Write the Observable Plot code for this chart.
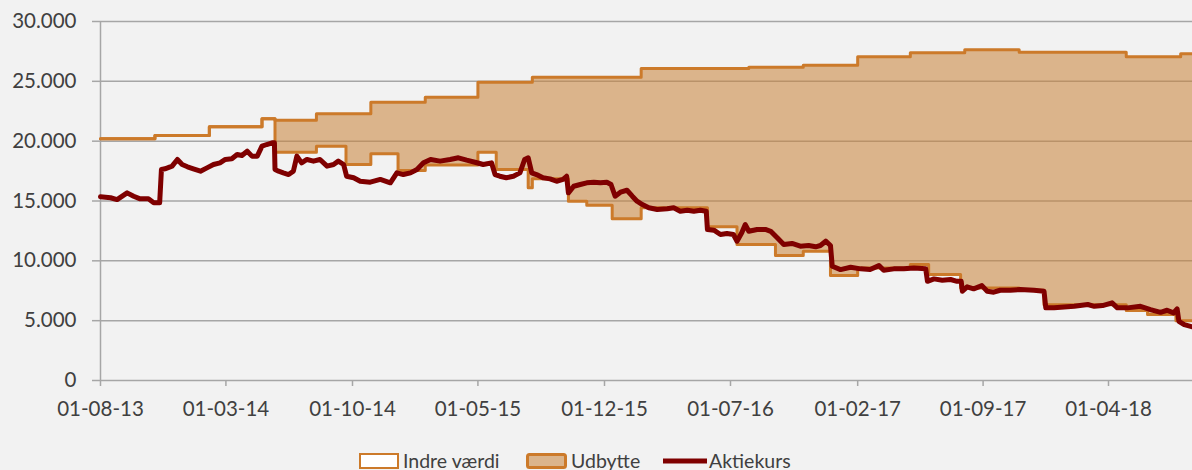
<!DOCTYPE html>
<html>
<head>
<meta charset="utf-8">
<script src="https://cdn.jsdelivr.net/npm/d3@7"></script>
<script src="https://cdn.jsdelivr.net/npm/@observablehq/plot@0.6"></script>
<style>
  html, body { margin: 0; padding: 0; background: #f2f2f2; overflow: hidden; }
  #chart { width: 1192px; height: 440px; }
  #legend { position: relative; height: 30px; font-family: Lato, "Open Sans", sans-serif; font-size: 19.5px; color: #404040; }
  .item { position: absolute; top: 12px; display: flex; align-items: center; height: 18px; }
  .item span { margin-left: 4px; line-height: 18px; }
</style>
</head>
<body>
<div id="chart"></div>
<div id="legend">
  <div class="item" style="left:359px"><svg width="40" height="16"><rect x="1" y="1" width="38" height="14" fill="#ffffff" stroke="#cc7a2a" stroke-width="2"/></svg><span>Indre værdi</span></div>
  <div class="item" style="left:526px"><svg width="41" height="16"><rect x="1.5" y="1.5" width="38" height="13" rx="2" fill="#dbb48b" stroke="#cc7a2a" stroke-width="3"/></svg><span>Udbytte</span></div>
  <div class="item" style="left:663px"><svg width="44" height="16"><line x1="0" y1="8" x2="44" y2="8" stroke="#7f0000" stroke-width="5" stroke-linecap="round"/></svg><span style="margin-left:2px">Aktiekurs</span></div>
</div>
<script>
// Step series: dates of changes, indre værdi and cumulated udbytte
const stepDates = ["2013-08-01","2013-11-01","2014-02-01","2014-05-01","2014-05-23","2014-08-01","2014-09-20","2014-11-01","2014-12-17","2015-02-01","2015-05-01","2015-06-01","2015-07-25","2015-08-01","2015-10-01","2015-11-01","2015-12-14","2016-02-01","2016-05-23","2016-07-12","2016-08-01","2016-09-15","2016-11-01","2016-12-17","2017-02-01","2017-05-01","2017-06-01","2017-07-25","2017-08-01","2017-11-01","2017-12-13","2018-05-01","2018-06-06","2018-07-24","2018-08-01","2018-08-21"];
const indreVaerdi = [20200,20470,21200,21870,19080,19580,18050,18950,17550,18000,19080,17630,16100,16850,14980,14650,13520,14430,12840,11360,11360,10440,10800,8770,9410,9690,8850,7740,7740,7540,6340,5840,5510,5000,5000,5000];
const udbytte = [0,0,0,0,2670,2710,4240,4300,5700,5680,5850,7300,8830,8500,10370,10700,11830,11645,13235,14715,14820,15740,15550,17580,17640,17700,18540,19650,19900,19900,21100,21210,21540,22050,22300,22300];

// Aktiekurs
const kursDates = ["2013-08-01","2013-08-18","2013-08-29","2013-09-15","2013-09-26","2013-10-07","2013-10-21","2013-10-30","2013-11-09","2013-11-12","2013-11-18","2013-11-30","2013-12-09","2013-12-17","2013-12-26","2014-01-05","2014-01-17","2014-01-28","2014-02-08","2014-02-19","2014-02-28","2014-03-11","2014-03-20","2014-03-28","2014-04-06","2014-04-14","2014-04-23","2014-05-01","2014-05-09","2014-05-18","2014-05-22","2014-05-23","2014-05-29","2014-06-06","2014-06-15","2014-06-23","2014-06-29","2014-07-07","2014-07-16","2014-07-27","2014-08-07","2014-08-19","2014-08-30","2014-09-07","2014-09-16","2014-09-21","2014-10-03","2014-10-14","2014-10-31","2014-11-17","2014-12-04","2014-12-15","2014-12-26","2015-01-07","2015-01-18","2015-01-29","2015-02-10","2015-02-26","2015-03-15","2015-03-29","2015-04-12","2015-04-26","2015-05-10","2015-05-24","2015-05-30","2015-06-07","2015-06-18","2015-06-30","2015-07-11","2015-07-19","2015-07-25","2015-07-31","2015-08-08","2015-08-19","2015-08-31","2015-09-11","2015-09-22","2015-09-28","2015-10-01","2015-10-10","2015-10-21","2015-11-01","2015-11-13","2015-11-24","2015-12-05","2015-12-12","2015-12-19","2015-12-28","2016-01-08","2016-01-17","2016-01-25","2016-02-03","2016-02-14","2016-02-28","2016-03-16","2016-03-27","2016-04-07","2016-04-19","2016-04-30","2016-05-11","2016-05-21","2016-05-23","2016-06-03","2016-06-14","2016-06-25","2016-07-06","2016-07-12","2016-07-20","2016-07-26","2016-08-01","2016-08-15","2016-08-29","2016-09-07","2016-09-18","2016-09-29","2016-10-13","2016-10-27","2016-11-10","2016-11-22","2016-11-30","2016-12-09","2016-12-17","2016-12-20","2017-01-03","2017-01-20","2017-02-06","2017-02-22","2017-03-09","2017-03-17","2017-04-03","2017-04-20","2017-05-07","2017-05-27","2017-05-30","2017-06-10","2017-06-24","2017-07-08","2017-07-19","2017-07-26","2017-07-28","2017-08-05","2017-08-16","2017-08-30","2017-09-08","2017-09-19","2017-09-30","2017-10-17","2017-11-03","2017-11-26","2017-12-13","2017-12-16","2017-12-30","2018-01-16","2018-02-02","2018-02-25","2018-03-08","2018-03-22","2018-04-07","2018-04-16","2018-05-03","2018-05-25","2018-06-11","2018-06-28","2018-07-09","2018-07-20","2018-07-26","2018-07-29","2018-08-07","2018-08-21"];
const kursValues = [15350,15270,15120,15680,15400,15180,15180,14850,14850,17630,17690,17910,18470,18050,17860,17690,17490,17770,18050,18190,18470,18530,18890,18800,19160,18750,18750,19580,19720,19860,19860,17630,17490,17350,17210,17490,18750,18190,18470,18330,18470,17910,18050,18330,18050,17070,16940,16650,16570,16800,16520,17350,17210,17350,17630,18190,18470,18330,18470,18610,18410,18240,18050,18190,17210,17070,16940,17070,17350,18470,18610,17350,17210,16940,16850,16650,16800,17070,15680,16230,16380,16520,16570,16520,16570,16380,15400,15740,15900,15400,14980,14700,14430,14290,14350,14430,14150,14230,14150,14230,14150,12620,12560,12200,12280,12200,11640,12340,13030,12470,12620,12620,12470,11920,11360,11450,11220,11280,11170,11280,11640,11280,9550,9270,9460,9330,9270,9600,9210,9330,9330,9410,9330,8290,8490,8380,8440,8290,8290,7460,7830,7660,7930,7460,7380,7540,7540,7600,7540,7460,6070,6070,6150,6200,6350,6200,6260,6490,6070,6070,6200,5930,5700,5870,5650,5990,4950,4670,4480];

const xTickDates = ["2013-08-01","2014-03-01","2014-10-01","2015-05-01","2015-12-01","2016-07-01","2017-02-01","2017-09-01","2018-04-01"];
const yTicks = [0,5000,10000,15000,20000,25000,30000];
const xDomain = ["2013-08-01","2018-08-21"];

const parse = d3.utcParse("%Y-%m-%d");
const steps = stepDates.map((d, i) => ({date: parse(d), indre: indreVaerdi[i], top: indreVaerdi[i] + udbytte[i]}));
const kurs = kursDates.map((d, i) => ({date: parse(d), value: kursValues[i]}));

const orange = "#cc7a2a";
const grid = "#a6a6a6";
const fmtY = d => d3.format(",")(d).replace(/,/g, ".");
const fmtX = d3.utcFormat("%d-%m-%y");

const chart = Plot.plot({
  width: 1192,
  height: 440,
  marginTop: 21,
  marginLeft: 100,
  marginRight: 0,
  marginBottom: 60,
  style: {background: "#f2f2f2", fontFamily: "Lato, 'Open Sans', sans-serif", fontSize: "20.5px", color: "#404040", overflow: "visible"},
  x: {type: "utc", domain: xDomain.map(parse), label: null},
  y: {domain: [0, 30000], label: null},
  marks: [
    Plot.ruleY(yTicks, {stroke: grid, strokeWidth: 1.5}),
    Plot.ruleX([parse(xDomain[0])], {stroke: grid, strokeWidth: 1.5}),
    Plot.areaY(steps, {x: "date", y1: "indre", y2: "top", curve: "step-after", fill: "#c88137", fillOpacity: 0.55}),
    Plot.lineY(steps, {x: "date", y: "indre", curve: "step-after", stroke: orange, strokeWidth: 3}),
    Plot.lineY(steps, {x: "date", y: "top", curve: "step-after", stroke: orange, strokeWidth: 3}),
    Plot.lineY(kurs, {x: "date", y: "value", stroke: "#7f0000", strokeWidth: 5, strokeLinejoin: "round", strokeLinecap: "round"}),
    Plot.axisY({ticks: yTicks, tickFormat: fmtY, tickSize: 8, tickPadding: 16, stroke: grid, strokeWidth: 1.5, fill: "#404040", fontSize: 20.5, label: null}),
    Plot.axisX({ticks: xTickDates.map(parse), tickFormat: fmtX, tickSize: 6, tickPadding: 15, stroke: grid, strokeWidth: 1.5, fill: "#404040", fontSize: 20.5, label: null})
  ]
});
document.getElementById("chart").appendChild(chart);
</script>
</body>
</html>
